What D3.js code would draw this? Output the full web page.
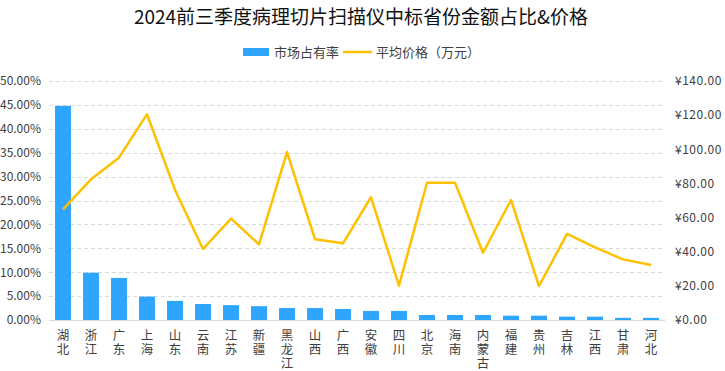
<!DOCTYPE html>
<html><head><meta charset="utf-8">
<script src="https://cdn.jsdelivr.net/npm/d3@7"></script>
<style>
html,body{margin:0;padding:0;background:#fff;}
svg{display:block;font-family:"Noto Sans CJK SC","Noto Sans",sans-serif;}
</style></head>
<body><svg id="c" width="725" height="371"></svg>
<script>
const categories = ["湖北","浙江","广东","上海","山东","云南","江苏","新疆","黑龙江","山西","广西","安徽","四川","北京","海南","内蒙古","福建","贵州","吉林","江西","甘肃","河北"];
const shareValues = [44.8,9.9,8.8,4.9,4.0,3.35,3.1,2.9,2.5,2.5,2.3,1.9,1.9,1.05,1.05,1.05,0.9,0.9,0.7,0.7,0.45,0.45];
const priceValues = [64.8,82.4,95.1,120.5,76.2,41.6,59.4,44.3,98.4,47.3,44.9,71.9,20.1,80.4,80.4,39.4,70.3,19.9,50.4,42.6,35.5,32.2];
const leftTicks = [0,5,10,15,20,25,30,35,40,45,50];
const rightTicks = [0,20,40,60,80,100,120,140];
const title = "2024前三季度病理切片扫描仪中标省份金额占比&价格";
const seriesNames = ["市场占有率","平均价格（万元）"];

const svg = d3.select("#c");
const L=49, R=665, T=81, B=320;
const barColor="#2EA6FF", lineColor="#FFC000";

const x = d3.scaleBand().domain(categories).range([L,R]).paddingInner(0.43).paddingOuter(0.215);
const yL = d3.scaleLinear().domain([0,50]).range([B,T]);
const yR = d3.scaleLinear().domain([0,140]).range([B,T]);

// gridlines
svg.append("g").selectAll("line").data(leftTicks.filter(d=>d>0)).join("line")
  .attr("x1",L).attr("x2",R).attr("y1",d=>Math.round(yL(d))+0.5).attr("y2",d=>Math.round(yL(d))+0.5)
  .attr("stroke","#d9d9d9").attr("stroke-width",1).attr("stroke-dasharray","4,3");

// left axis
const axL = d3.axisLeft(yL).tickValues(leftTicks).tickSize(0).tickPadding(8).tickFormat(d=>d.toFixed(2)+"%");
const gL = svg.append("g").attr("transform",`translate(${L},0)`).call(axL);
gL.select(".domain").remove();
gL.selectAll("text").attr("font-size",12).attr("fill","#404040").attr("font-family","\"Noto Sans CJK SC\",sans-serif");

// right axis
const axR = d3.axisRight(yR).tickValues(rightTicks).tickSize(0).tickPadding(10).tickFormat(d=>"¥"+d.toFixed(2));
const gR = svg.append("g").attr("transform",`translate(${R},0)`).call(axR);
gR.select(".domain").remove();
gR.selectAll("text").attr("font-size",12).attr("fill","#404040").attr("letter-spacing",0.5).attr("font-family","\"Noto Sans CJK SC\",sans-serif");

// bars
svg.append("g").selectAll("rect").data(categories).join("rect")
  .attr("x",d=>x(d)).attr("width",x.bandwidth())
  .attr("y",(d,i)=>yL(shareValues[i])).attr("height",(d,i)=>B-yL(shareValues[i]))
  .attr("fill",barColor);

// baseline
svg.append("line").attr("x1",L).attr("x2",R).attr("y1",B+0.5).attr("y2",B+0.5)
  .attr("stroke","#d9d9d9").attr("stroke-width",1);

// line
const line = d3.line().x((d,i)=>x(categories[i])+x.bandwidth()/2).y(d=>yR(d));
svg.append("path").datum(priceValues).attr("d",line).attr("fill","none")
  .attr("stroke",lineColor).attr("stroke-width",2.5).attr("stroke-linejoin","round");

// x labels (vertical writing mode)
svg.append("g").selectAll("text").data(categories).join("text")
  .attr("writing-mode","tb").style("writing-mode","vertical-rl")
  .attr("text-anchor","start").attr("font-size",12.5).attr("fill","#404040")
  .attr("letter-spacing",1.5)
  .attr("x",d=>x(d)+x.bandwidth()/2).attr("y",329)
  .text(d=>d);

// title
svg.append("text").attr("x",361).attr("y",24).attr("text-anchor","middle")
  .attr("font-size",19).attr("fill","#111").text(title);

// legend
const lg = svg.append("g");
lg.append("rect").attr("x",243).attr("y",48).attr("width",26).attr("height",8).attr("fill",barColor);
lg.append("text").attr("x",274).attr("y",57).attr("font-size",13).attr("fill","#404040").text(seriesNames[0]);
lg.append("line").attr("x1",343).attr("x2",372).attr("y1",52).attr("y2",52).attr("stroke",lineColor).attr("stroke-width",2.5);
lg.append("text").attr("x",376).attr("y",57).attr("font-size",13).attr("fill","#404040").text(seriesNames[1]);
</script></body></html>
